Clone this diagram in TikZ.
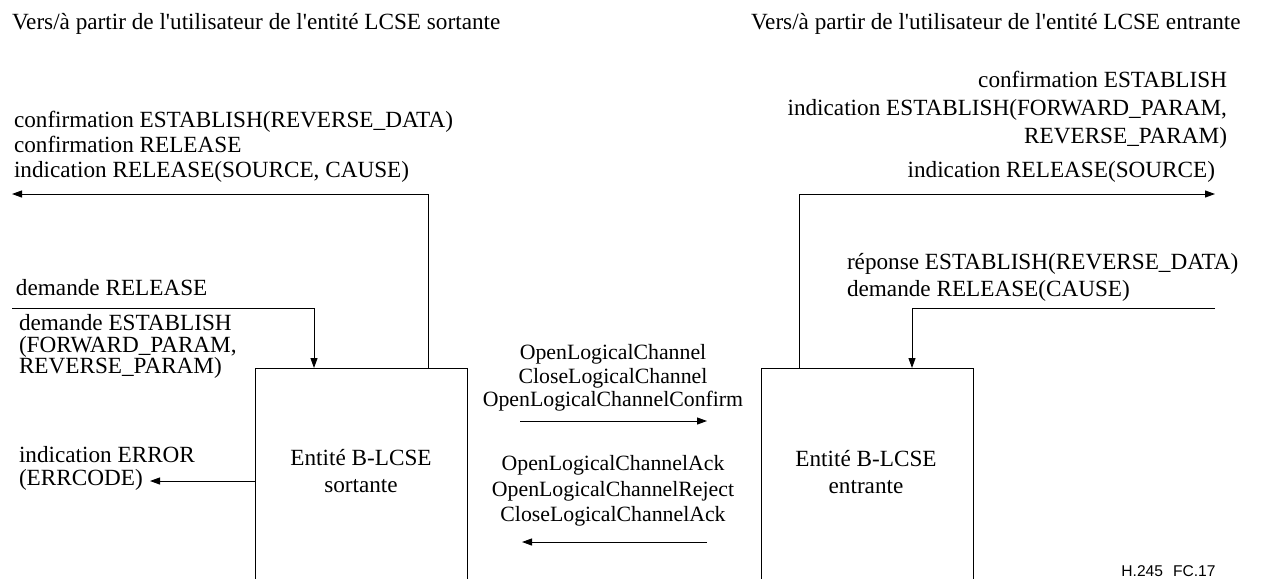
\documentclass[tikz,border=0pt]{standalone}
\usepackage{fontspec}
\setmainfont{Liberation Serif}
\newfontfamily\tnr{Liberation Serif}
\newfontfamily\hsans{Liberation Sans}
\usetikzlibrary{arrows.meta}
\begin{document}
\begin{tikzpicture}[x=0.5pt,y=-0.5pt,
  txt/.style={font=\tnr\fontsize{11.6}{12.5}\selectfont, inner sep=0pt, outer sep=0pt},
  tl/.style={txt, anchor=base west},
  tr/.style={txt, anchor=base east},
  tc/.style={txt, anchor=base},
  tm/.style={tc, font=\tnr\fontsize{10.9}{12}\selectfont},
  entbox/.style={draw, line width=0.5pt, minimum width=106pt, minimum height=130pt, anchor=north west, inner sep=0pt},
  wire/.style={line width=0.5pt},
  arr/.style={wire, -{Triangle[length=5pt,width=3.5pt]}}]
\clip (0,0) rectangle (1262,578);
\fill[white] (0,0) rectangle (1262,578);
% headings
\node[tl] (hL) at (12,29) {Vers/à partir de l\textquotesingle utilisateur de l\textquotesingle entité LCSE sortante};
\node[tl] (hR) at (751,29) {Vers/à partir de l\textquotesingle utilisateur de l\textquotesingle entité LCSE entrante};
% boxes
\node[entbox] (sL) at (255,368) {};
\node[entbox] (sR) at (761,368) {};
\node[tc] (sLa) at (361,465) {Entité B-LCSE};
\node[tc] (sLb) at (361,492) {sortante};
\node[tc] (sRa) at (866,466) {Entité B-LCSE};
\node[tc] (sRb) at (866,493) {entrante};
% left top outputs
\node[tl] (lt1) at (14,127) {confirmation ESTABLISH(REVERSE\_DATA)};
\node[tl] (lt2) at (14,152) {confirmation RELEASE};
\node[tl] (lt3) at (14,177) {indication RELEASE(SOURCE, CAUSE)};
\coordinate (c1) at (428,194);
\coordinate (outL1) at (12,194);
\draw[arr] (sL.north -| c1) -- (c1) -- (outL1);
% left inputs
\node[tl] (ld1) at (16,295) {demande RELEASE};
\coordinate (inL1) at (12,308);
\coordinate (c2) at (314,308);
\draw[arr] (inL1) -- (c2) -- (c2 |- sL.north);
\node[tl] (le1) at (19,330) {demande ESTABLISH};
\node[tl] (le2) at (19,352) {(FORWARD\_PARAM,};
\node[tl] (le3) at (19,373) {REVERSE\_PARAM)};
% error
\node[tl] (er1) at (19,462) {indication ERROR};
\node[tl] (er2) at (19,485) {(ERRCODE)};
\coordinate (outL2) at (150,481);
\draw[arr] (sL.west |- outL2) -- (outL2);
% middle
\node[tm] (m1) at (613,359) {OpenLogicalChannel};
\node[tm] (m2) at (613,383) {CloseLogicalChannel};
\node[tm] (m3) at (613,406) {OpenLogicalChannelConfirm};
\coordinate (ma) at (520,421);
\coordinate (mb) at (707,421);
\draw[arr] (ma) -- (mb);
\node[tm] (n1) at (613,470) {OpenLogicalChannelAck};
\node[tm] (n2) at (613,496) {OpenLogicalChannelReject};
\node[tm] (n3) at (613,521) {CloseLogicalChannelAck};
\coordinate (na) at (707,542);
\coordinate (nb) at (522,542);
\draw[arr] (na) -- (nb);
% right top outputs
\node[tr] (rt1) at (1227,87) {confirmation ESTABLISH};
\node[tr] (rt2) at (1227,115) {indication ESTABLISH(FORWARD\_PARAM,};
\node[tr] (rt3) at (1227,143) {REVERSE\_PARAM)};
\node[tr] (rt4) at (1215,177) {indication RELEASE(SOURCE)};
\coordinate (c3) at (799,194);
\coordinate (outR1) at (1215,194);
\draw[arr] (sR.north -| c3) -- (c3) -- (outR1);
% right inputs
\node[tl] (rr1) at (847,269) {réponse ESTABLISH(REVERSE\_DATA)};
\node[tl] (rr2) at (847,296) {demande RELEASE(CAUSE)};
\coordinate (inR1) at (1215,308);
\coordinate (c4) at (912,308);
\draw[arr] (inR1) -- (c4) -- (c4 |- sR.north);
% figure id
\node[inner sep=0pt, anchor=base west, font=\hsans\fontsize{7.8}{9}\selectfont] (fid) at (1121,576) {H.245\hspace{5pt}FC.17};
\end{tikzpicture}
\end{document}
